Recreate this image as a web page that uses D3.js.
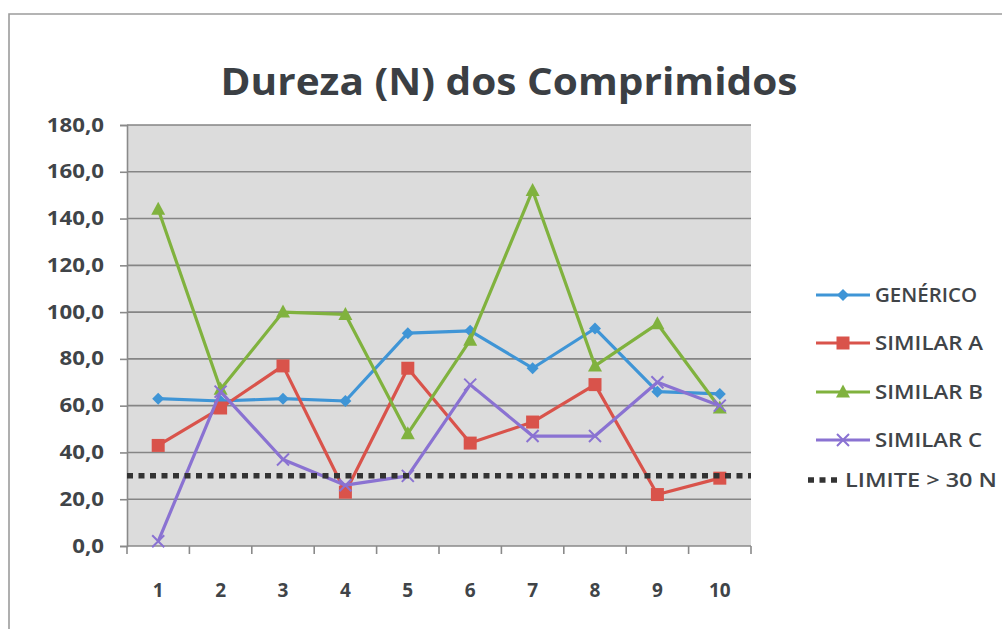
<!DOCTYPE html>
<html>
<head>
<meta charset="utf-8">
<script src="https://cdn.jsdelivr.net/npm/d3@7"></script>
<style>
  html, body { margin: 0; padding: 0; background: #fff; }
  svg { display: block; }
</style>
</head>
<body>
<svg id="chart" width="1002" height="629"></svg>
<script>
const categories = ["1", "2", "3", "4", "5", "6", "7", "8", "9", "10"];
const generico  = [63, 62, 63, 62, 91, 92, 76, 93, 66, 65];
const similarA  = [43, 59, 77, 23, 76, 44, 53, 69, 22, 29];
const similarB  = [144, 67, 100, 99, 48, 88, 152, 77, 95, 59];
const similarC  = [2, 66, 37, 26, 30, 69, 47, 47, 70, 60];
const limite    = [30, 30, 30, 30, 30, 30, 30, 30, 30, 30];
const yTicks    = [0, 20, 40, 60, 80, 100, 120, 140, 160, 180];
const seriesNames = ["GENÉRICO", "SIMILAR A", "SIMILAR B", "SIMILAR C", "LIMITE > 30 N"];
const titleText = "Dureza (N) dos Comprimidos";

const colors = { gen: "#3f95d6", a: "#d9534b", b: "#80b23e", c: "#8a72d2", lim: "#333333" };
const textColor = "#404448";

const svg = d3.select("#chart");
svg.append("rect").attr("width", 1002).attr("height", 629).attr("fill", "#fff");

// outer border (top + left visible)
svg.append("path").attr("d", "M9,629 L9,14 L1002,14")
  .attr("fill", "none").attr("stroke", "#9c9c9c").attr("stroke-width", 1.6);

const plot = { left: 127, right: 751, top: 125, bottom: 546 };

const x = d3.scaleBand().domain(categories).range([plot.left, plot.right]);
const y = d3.scaleLinear().domain([0, 180]).range([plot.bottom, plot.top]);
const cx = c => x(c) + x.bandwidth() / 2;

// plot background
svg.append("rect")
  .attr("x", plot.left).attr("y", plot.top)
  .attr("width", plot.right - plot.left).attr("height", plot.bottom - plot.top)
  .attr("fill", "#dcdcdc");

// gridlines
svg.append("g").selectAll("line").data(yTicks.filter(d => d > 0)).join("line")
  .attr("x1", plot.left).attr("x2", plot.right)
  .attr("y1", d => y(d)).attr("y2", d => y(d))
  .attr("stroke", "#858585").attr("stroke-width", 1.6);

// y axis
const fmt = d3.formatLocale({ decimal: ",", thousands: ".", grouping: [3], currency: ["", ""] }).format(".1f");
const yAxis = svg.append("g").attr("transform", `translate(${plot.left},0)`)
  .call(d3.axisLeft(y).tickValues(yTicks).tickFormat(fmt).tickSize(7).tickPadding(16));
yAxis.select(".domain").attr("stroke", "#8a8a8a").attr("stroke-width", 1.6);
yAxis.selectAll(".tick line").attr("stroke", "#8a8a8a").attr("stroke-width", 1.6);
yAxis.selectAll(".tick text")
  .attr("fill", textColor).attr("font-family", "'Open Sans', sans-serif")
  .attr("font-weight", 700).attr("font-size", 19)
  .each(function() { const w = this.getComputedTextLength(); d3.select(this).attr("textLength", w * 1.17).attr("lengthAdjust", "spacingAndGlyphs"); });

// x axis
const xAxisG = svg.append("g");
xAxisG.append("line").attr("x1", plot.left).attr("x2", plot.right)
  .attr("y1", plot.bottom).attr("y2", plot.bottom)
  .attr("stroke", "#8a8a8a").attr("stroke-width", 1.6);
const bounds = categories.map(c => x(c)).concat([x.range()[1]]);
xAxisG.selectAll("line.tk").data(bounds).join("line").attr("class", "tk")
  .attr("x1", d => d).attr("x2", d => d)
  .attr("y1", plot.bottom).attr("y2", plot.bottom + 8)
  .attr("stroke", "#8a8a8a").attr("stroke-width", 1.6);
xAxisG.selectAll("text").data(categories).join("text")
  .attr("x", d => cx(d)).attr("y", 597)
  .attr("text-anchor", "middle")
  .attr("fill", textColor).attr("font-family", "'Open Sans', sans-serif")
  .attr("font-weight", 700).attr("font-size", 19)
  .text(d => d);

// title
const title = svg.append("text")
  .attr("x", 509).attr("y", 95).attr("text-anchor", "middle")
  .attr("fill", "#3b3f44").attr("font-family", "'Open Sans', sans-serif")
  .attr("font-weight", 700).attr("font-size", 38)
  .text(titleText);
title.attr("textLength", 577).attr("lengthAdjust", "spacingAndGlyphs");

// markers
const markerPaths = {
  diamond: "M0,-6L6,0L0,6L-6,0Z",
  square: "M-6.5,-6.5H6.5V6.5H-6.5Z",
  triangle: "M0,-7.5L7,5.5H-7Z",
  x: "M-6,-6L6,6M-6,6L6,-6"
};

const series = [
  { name: seriesNames[0], values: generico, color: colors.gen, marker: "diamond" },
  { name: seriesNames[1], values: similarA, color: colors.a, marker: "square" },
  { name: seriesNames[2], values: similarB, color: colors.b, marker: "triangle" },
  { name: seriesNames[3], values: similarC, color: colors.c, marker: "x" }
];

const line = d3.line().x((d, i) => cx(categories[i])).y(d => y(d));

function drawMarker(g, type, color) {
  if (type === "x") {
    g.append("path").attr("d", markerPaths.x).attr("fill", "none")
      .attr("stroke", color).attr("stroke-width", 2);
  } else {
    g.append("path").attr("d", markerPaths[type]).attr("fill", color);
  }
}

series.forEach(s => {
  const g = svg.append("g");
  g.append("path").datum(s.values).attr("d", line)
    .attr("fill", "none").attr("stroke", s.color).attr("stroke-width", 3.2)
    .attr("stroke-linejoin", "round");
  s.values.forEach((v, i) => {
    const mg = g.append("g").attr("transform", `translate(${cx(categories[i])},${y(v)})`);
    drawMarker(mg, s.marker, s.color);
  });
});

// limit line (dotted)
svg.append("path").datum(limite)
  .attr("d", d3.line().x((d, i) => i === 0 ? plot.left : (i === limite.length - 1 ? plot.right : cx(categories[i]))).y(d => y(d)))
  .attr("fill", "none").attr("stroke", colors.lim).attr("stroke-width", 5.5)
  .attr("stroke-dasharray", "6,5.5");

// legend
const legendY = [295, 343, 392, 440];
series.forEach((s, i) => {
  const g = svg.append("g").attr("transform", `translate(0,${legendY[i]})`);
  g.append("line").attr("x1", 816).attr("x2", 870).attr("y1", 0).attr("y2", 0)
    .attr("stroke", s.color).attr("stroke-width", 3.2);
  const mg = g.append("g").attr("transform", "translate(843,0)");
  drawMarker(mg, s.marker, s.color);
  g.append("text").attr("x", 875).attr("y", 0).attr("dy", "0.36em")
    .attr("fill", textColor).attr("font-family", "'Open Sans', sans-serif")
    .attr("font-weight", 600).attr("font-size", 19)
    .attr("textLength", [102, 108, 108, 107][i]).attr("lengthAdjust", "spacingAndGlyphs")
    .text(s.name);
});
{
  const g = svg.append("g").attr("transform", "translate(0,480)");
  g.append("line").attr("x1", 808).attr("x2", 838).attr("y1", 0).attr("y2", 0)
    .attr("stroke", colors.lim).attr("stroke-width", 5.5).attr("stroke-dasharray", "6,5.5");
  g.append("text").attr("x", 845).attr("y", 0).attr("dy", "0.36em")
    .attr("fill", textColor).attr("font-family", "'Open Sans', sans-serif")
    .attr("font-weight", 600).attr("font-size", 19)
    .attr("textLength", 152).attr("lengthAdjust", "spacingAndGlyphs")
    .text(seriesNames[4]);
}
</script>
</body>
</html>
